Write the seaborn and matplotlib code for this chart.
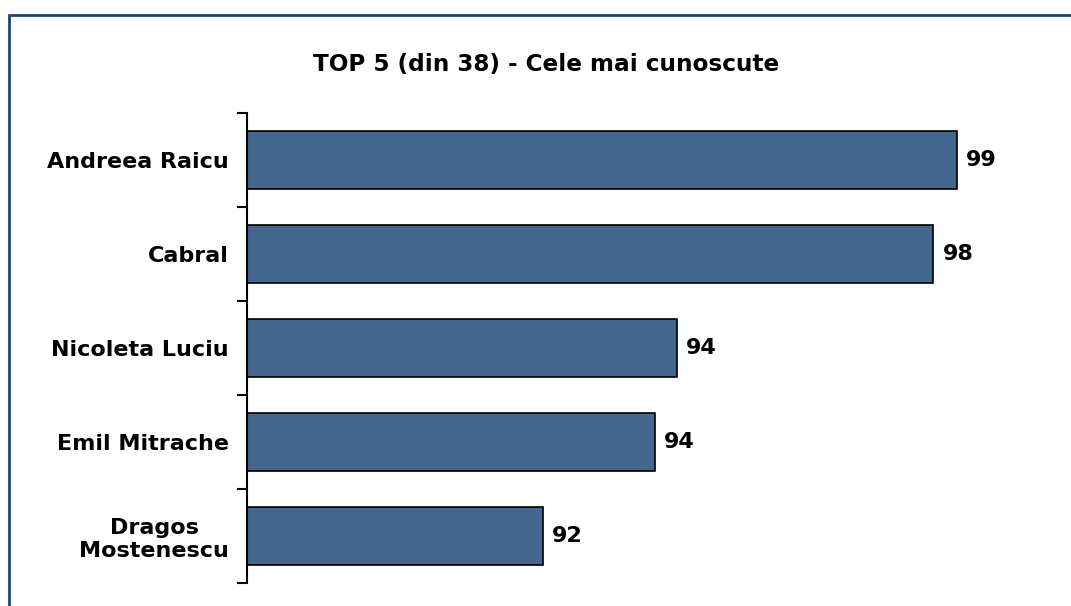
import matplotlib
matplotlib.use("Agg")
import matplotlib.pyplot as plt
import seaborn as sns
import pandas as pd
from matplotlib.patches import Rectangle

sns.set_style("white")
plt.rcParams["font.family"] = ["DejaVu Sans"]
plt.rcParams["text.color"] = "black"
plt.rcParams["ytick.color"] = "black"
plt.rcParams["ytick.labelcolor"] = "black"

names = ["Andreea Raicu", "Cabral", "Nicoleta Luciu", "Emil Mitrache", "Dragos\nMostenescu"]
scores = [98.8, 98.4, 94.07, 93.7, 91.8]
title = "TOP 5 (din 38) - Cele mai cunoscute"

df = pd.DataFrame({"name": names, "score": scores})

W, H = 1071, 606
fig = plt.figure(figsize=(W / 100, H / 100), dpi=100)
ax = fig.add_axes([247 / W, (H - 583) / H, (1040 - 247) / W, 470 / H])

sns.barplot(data=df, x="score", y="name", orient="h", color="#44678F",
            edgecolor="black", linewidth=1.2, width=0.61, ax=ax, saturation=1)

ax.set_xlim(86.8, 100.2)
ax.set_ylim(4.5, -0.5)
ax.set_xlabel("")
ax.set_ylabel("")
ax.set_xticks([])

# category labels at centres, tick marks between categories
ax.set_yticks(range(len(names)))
ax.set_yticklabels(names, fontsize=16, fontweight="bold")
for lab in ax.get_yticklabels():
    lab.set_multialignment("center")
ax.tick_params(axis="y", which="major", length=0, pad=13)
ax.set_yticks([i - 0.5 for i in range(len(names) + 1)], minor=True)
ax.tick_params(axis="y", which="minor", left=True, length=7, width=1.5,
               direction="out", color="black")

for side in ["top", "right", "bottom"]:
    ax.spines[side].set_visible(False)
ax.spines["left"].set_color("black")
ax.spines["left"].set_linewidth(1.5)

ax.bar_label(ax.containers[0], fmt="%.0f", padding=6.5, fontsize=16, fontweight="bold")

fig.text(546 / W, 1 - 71 / H, title, ha="center", va="baseline", fontsize=16.7, fontweight="bold")

# frame (only top/left visible in the crop)
fig.add_artist(Rectangle((9 / W, -0.5), 2, 0.5 + 1 - 15 / H, transform=fig.transFigure,
                         fill=False, edgecolor="#1F4478", linewidth=2))

fig.savefig("out.png", dpi=100)
